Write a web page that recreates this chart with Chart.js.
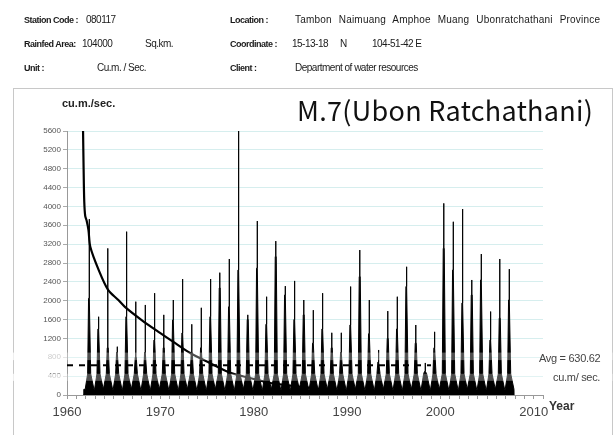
<!DOCTYPE html>
<html>
<head>
<meta charset="utf-8">
<script src="https://cdn.jsdelivr.net/npm/chart.js@4.4.1/dist/chart.umd.min.js"></script>
<style>
  body { margin: 0; width: 614px; height: 435px; overflow: hidden; background: #fff; position: relative; font-family: "Liberation Sans", Arial, sans-serif; }
  #box { position: absolute; left: 13px; top: 88px; width: 598px; height: 380px; border: 1px solid #c8c8c8; }
  canvas { position: absolute; left: 0; top: 0; }
  .t { position: absolute; white-space: nowrap; font-size: 10px; line-height: 10px; color: #1a1a1a; font-family: "Liberation Sans", Arial, sans-serif; letter-spacing: -0.5px; }
  .b { font-weight: bold; font-size: 9px; }
</style>
</head>
<body>
<div id="box"></div>
<canvas id="hydroChart" width="614" height="435"></canvas>

<!-- header block -->
<div class="t b" style="left:24px;top:15px">Station Code :</div>
<div class="t" style="left:86px;top:15px">080117</div>
<div class="t b" style="left:230px;top:15px">Location :</div>
<div class="t" style="left:295px;top:15px;letter-spacing:0.2px;word-spacing:4px">Tambon Naimuang Amphoe Muang Ubonratchathani Province</div>

<div class="t b" style="left:24px;top:39px">Rainfed Area:</div>
<div class="t" style="left:82px;top:39px">104000</div>
<div class="t" style="left:145px;top:39px">Sq.km.</div>
<div class="t b" style="left:230px;top:39px">Coordinate :</div>
<div class="t" style="left:292px;top:39px">15-13-18</div>
<div class="t" style="left:340px;top:39px">N</div>
<div class="t" style="left:372px;top:39px">104-51-42 E</div>

<div class="t b" style="left:24px;top:63px">Unit :</div>
<div class="t" style="left:97px;top:63px">Cu.m. / Sec.</div>
<div class="t b" style="left:230px;top:63px">Client :</div>
<div class="t" style="left:295px;top:63px">Department of water resources</div>

<!-- chart texts -->
<div style="position:absolute;left:62px;top:97px;font:bold 11px 'Liberation Sans',Arial,sans-serif;color:#222">cu.m./sec.</div>
<div style="position:absolute;left:297px;top:96px;font:27px/27px 'Noto Sans CJK JP',sans-serif;letter-spacing:0.3px;color:#111;white-space:nowrap">M.7(Ubon Ratchathani)</div>
<div style="position:absolute;left:549px;top:399px;font:bold 12px 'Liberation Sans',Arial,sans-serif;color:#333">Year</div>
<div class="t" style="left:539px;top:353px;font-size:11px;letter-spacing:-0.3px;color:#444">Avg = 630.62</div>
<div class="t" style="left:553px;top:372px;font-size:11px;letter-spacing:-0.3px;color:#444">cu.m/ sec.</div>

<script>
// annual flood peaks (cu.m./sec.)
const years = [1962, 1963, 1964, 1965, 1966, 1967, 1968, 1969, 1970, 1971,
               1972, 1973, 1974, 1975, 1976, 1977, 1978, 1979, 1980, 1981,
               1982, 1983, 1984, 1985, 1986, 1987, 1988, 1989, 1990, 1991,
               1992, 1993, 1994, 1995, 1996, 1997, 1998, 1999, 2000, 2001,
               2002, 2003, 2004, 2005, 2006, 2007];
const peakQ = [3730, 1660, 3110, 1025, 3465, 1980, 1910, 2160, 1700, 2015,
               2460, 1500, 1850, 2460, 2595, 2885, 5600, 1700, 3690, 2085,
               3265, 2310, 2420, 2015, 1800, 2160, 1320, 1320, 2300, 3075,
               2015, 955, 1780, 2085, 2720, 1485, 680, 1340, 4065, 3675,
               3945, 2440, 2990, 1770, 2885, 2670];
// level of the dense black part of each flood
const highQ = [2050, 1400, 1000, 900, 1660, 800, 900, 1165, 1000, 1590,
               1315, 900, 1000, 1660, 2270, 1870, 2650, 1600, 2690, 1500,
               2935, 2120, 1600, 1700, 1100, 1400, 1000, 900, 1485, 2510,
               1300, 700, 1200, 1400, 2300, 1100, 500, 1000, 3110, 2650,
               1950, 2120, 2440, 1165, 1630, 2015];
const dryFlow = 120;
const riseFlow = 450;

// flow duration curve drawn over the same time span
const durX = [1961.72, 1961.78, 1961.85, 1961.95, 1962.1, 1962.3, 1962.5, 1963.4, 1964.4, 1965.5,
              1966.2, 1968.0, 1969.8, 1971.6, 1973.2, 1975.3, 1977.5, 1979.6, 1981.8, 1985.0,
              1988.2, 1992.0, 1997.0, 2007.7];
const durQ = [5600, 4800, 4100, 3800, 3700, 3500, 3140, 2650, 2230, 2015,
              1870, 1590, 1340, 1100, 890, 680, 470, 360, 255, 175,
              106, 50, 25, 5];

const avgQ = 630.62;
const avgX = [1960, 1999];

const hydro = [{ x: 1961.72, y: 0 }, { x: 1961.8, y: dryFlow }];
years.forEach((yr, i) => {
    const p = yr + 0.37;
    hydro.push(
        { x: p - 0.42, y: dryFlow },
        { x: p - 0.16, y: riseFlow },
        { x: p - 0.06, y: highQ[i] },
        { x: p - 0.01, y: highQ[i] },
        { x: p, y: peakQ[i] },
        { x: p + 0.01, y: highQ[i] },
        { x: p + 0.05, y: highQ[i] },
        { x: p + 0.17, y: riseFlow },
        { x: p + 0.52, y: dryFlow }
    );
});
hydro.push({ x: 2007.9, y: 0 });

const bands = {
    id: 'bands',
    afterDraw(chart) {
        const y = chart.scales.y;
        const left = chart.chartArea.left;
        const c = chart.ctx;
        c.save();
        [[900, 740], [450, 300]].forEach(([a, b]) => {
            const y1 = y.getPixelForValue(a), y2 = y.getPixelForValue(b);
            c.fillStyle = 'rgba(255,255,255,0.7)';
            c.fillRect(0, y1, left, y2 - y1);
            c.fillStyle = 'rgba(255,255,255,0.3)';
            c.fillRect(left, y1, chart.width - left, y2 - y1);
        });
        c.restore();
    }
};

new Chart(document.getElementById('hydroChart').getContext('2d'), {
    type: 'line',
    data: {
        datasets: [{
            label: 'duration',
            data: durX.map((x, i) => ({ x: x, y: durQ[i] })),
            borderColor: '#000',
            borderWidth: 2.2,
            pointRadius: 0,
            tension: 0.3,
            order: 0
        }, {
            label: 'flow',
            data: hydro,
            borderColor: '#000',
            backgroundColor: '#000',
            borderWidth: 1,
            fill: 'origin',
            pointRadius: 0,
            order: 1
        }, {
            label: 'avg',
            data: avgX.map(x => ({ x: x, y: avgQ })),
            borderColor: '#000',
            borderWidth: 2,
            borderDash: [6, 6],
            pointRadius: 0,
            order: 2
        }]
    },
    options: {
        responsive: false,
        animation: false,
        layout: { padding: { top: 131, right: 71, left: 0, bottom: 0 } },
        plugins: { legend: { display: false }, tooltip: { enabled: false } },
        scales: {
            x: {
                type: 'linear',
                min: 1960,
                max: 2011,
                afterFit: s => { s.height = 40; },
                ticks: {
                    stepSize: 1,
                    autoSkip: false,
                    maxRotation: 0,
                    padding: 6,
                    color: '#444',
                    font: { family: 'Liberation Sans', size: 13 },
                    callback: v => (v % 10 === 0 ? String(v) : '')
                },
                grid: { drawOnChartArea: false, tickLength: 4, color: '#999' },
                border: { color: '#999' }
            },
            y: {
                min: 0,
                max: 5600,
                afterFit: s => { s.width = 67; },
                ticks: {
                    stepSize: 400,
                    padding: 2,
                    color: '#555',
                    font: { family: 'Liberation Sans', size: 8 },
                    callback: v => String(v)
                },
                grid: { color: '#d6eeee', tickColor: '#aaa', tickLength: 4 },
                border: { color: '#999' }
            }
        }
    },
    plugins: [bands]
});
</script>
</body>
</html>
